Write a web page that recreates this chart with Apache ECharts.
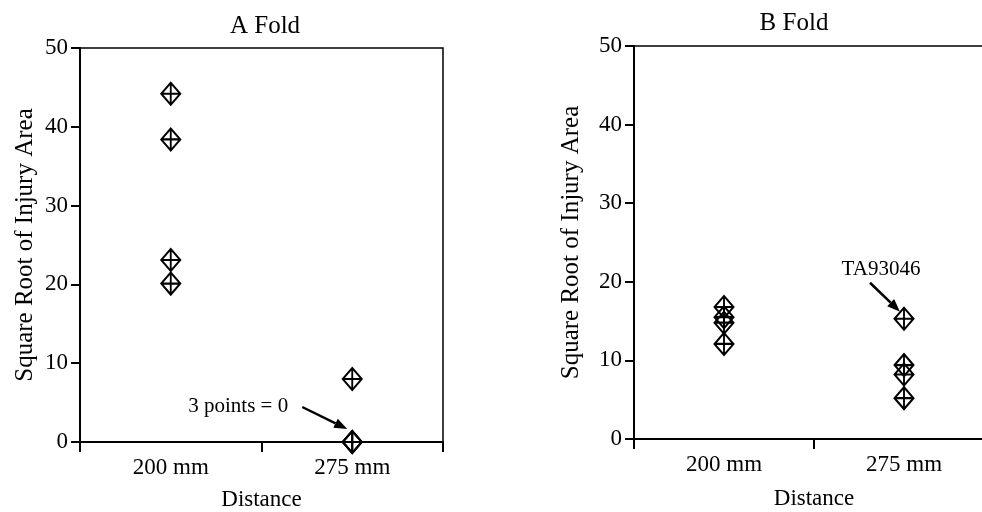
<!DOCTYPE html>
<html>
<head>
<meta charset="utf-8">
<script src="https://cdn.jsdelivr.net/npm/echarts@6/dist/echarts.min.js"></script>
<style>
  html, body { margin: 0; padding: 0; background: #fff; }
  #main { width: 982px; height: 512px; }
</style>
</head>
<body>
<div id="main"></div>
<script>
// categories and values
var categories = ['200 mm', '275 mm'];
var foldA200 = [44.2, 38.4, 23.1, 20.1];
var foldA275 = [8.0, 0, 0, 0];   // 3 points = 0
var foldB200 = [16.8, 15.5, 14.8, 12.1];
var foldB275 = [15.3, 9.4, 8.2, 5.2]; // first one is TA93046
var titles = ['A Fold', 'B Fold'];
var yName = 'Square Root of Injury Area';
var xName = 'Distance';

var font = 'Liberation Serif';
var diamond = 'path://M10,0 L20,11 L10,22 L0,11 Z M10,0 L10,22 M0,11 L20,11';

function pts(idx, vals) {
    var res = [];
    for (var i = 0; i < vals.length; i++) res.push([idx, vals[i]]);
    return res;
}

function xAxis(gi, gap) {
    return {
        type: 'category', gridIndex: gi, data: categories, boundaryGap: true,
        name: xName, nameLocation: 'middle', nameGap: gap,
        nameTextStyle: { fontFamily: font, fontSize: 23, color: '#000' },
        axisLine: { show: true, lineStyle: { color: '#000', width: 2 } },
        axisTick: { show: true, alignWithLabel: false, interval: 0, length: 10,
                    lineStyle: { color: '#000', width: 2 } },
        axisLabel: { fontFamily: font, fontSize: 23, color: '#000', margin: 14 },
        splitLine: { show: false }
    };
}
function yAxis(gi, gap) {
    return {
        type: 'value', gridIndex: gi, min: 0, max: 50, interval: 10,
        name: yName, nameLocation: 'middle', nameGap: gap,
        nameTextStyle: { fontFamily: font, fontSize: 25, color: '#000' },
        axisLine: { show: true, lineStyle: { color: '#000', width: 2 } },
        axisTick: { show: true, length: 9, lineStyle: { color: '#000', width: 2 } },
        axisLabel: { fontFamily: font, fontSize: 23, color: '#000', margin: 12 },
        splitLine: { show: false }
    };
}
function sc(gi, vals, idx) {
    return {
        type: 'scatter', xAxisIndex: gi, yAxisIndex: gi,
        data: pts(idx, vals), symbol: diamond, symbolSize: [19, 22],
        itemStyle: { color: 'rgba(0,0,0,0)', borderColor: '#000', borderWidth: 2, opacity: 1 },
        emphasis: { disabled: true }, silent: true
    };
}

var myChart = echarts.init(document.getElementById('main'));
var option = {
    backgroundColor: '#fff',
    animation: false,
    title: [
        { text: titles[0], left: 260, top: 9, textAlign: 'center',
          textStyle: { fontFamily: font, fontSize: 25, fontWeight: 'normal', color: '#000' } },
        { text: titles[1], left: 789, top: 6, textAlign: 'center',
          textStyle: { fontFamily: font, fontSize: 25, fontWeight: 'normal', color: '#000' } }
    ],
    grid: [
        { left: 80, top: 48, width: 363, height: 394, outerBoundsMode: 'none', containLabel: false,
          show: true, borderColor: '#000', borderWidth: 1.5 },
        { left: 634, top: 46, width: 360, height: 393, outerBoundsMode: 'none', containLabel: false,
          show: true, borderColor: '#000', borderWidth: 1.5 }
    ],
    xAxis: [xAxis(0, 46), xAxis(1, 48)],
    yAxis: [yAxis(0, 42), yAxis(1, 50)],
    series: [
        sc(0, foldA200, 0), sc(0, foldA275, 1),
        sc(1, foldB200, 0), sc(1, foldB275, 1)
    ]
};
myChart.setOption(option);

// annotations: arrows pointing at a data point, offsets in pixels
function arrow(gi, cat, val, head, tail, text, textOff) {
    var p = myChart.convertToPixel({ gridIndex: gi }, [cat, val]);
    var hx = p[0] + head[0], hy = p[1] + head[1];
    var tx = p[0] + tail[0], ty = p[1] + tail[1];
    var dx = hx - tx, dy = hy - ty, len = Math.sqrt(dx * dx + dy * dy);
    dx /= len; dy /= len;
    var bx = hx - dx * 13, by = hy - dy * 13;
    return [
        { type: 'line', shape: { x1: tx, y1: ty, x2: bx, y2: by }, style: { stroke: '#000', lineWidth: 2.5 } },
        { type: 'polygon', shape: { points: [[hx, hy], [bx - dy * 5, by + dx * 5], [bx + dy * 5, by - dx * 5]] },
          style: { fill: '#000' } },
        { type: 'text', x: p[0] + textOff[0], y: p[1] + textOff[1],
          style: { text: text, fill: '#000', font: '21px "' + font + '"', align: 'center', verticalAlign: 'middle' } }
    ];
}
myChart.setOption({
    graphic: arrow(0, 1, 0, [-5, -13], [-50, -35], '3 points = 0', [-114, -36])
        .concat(arrow(1, 1, foldB275[0], [-4, -7], [-34, -36], 'TA93046', [-23, -49]))
});

window.addEventListener('resize', function () { myChart.resize(); });
</script>
</body>
</html>
